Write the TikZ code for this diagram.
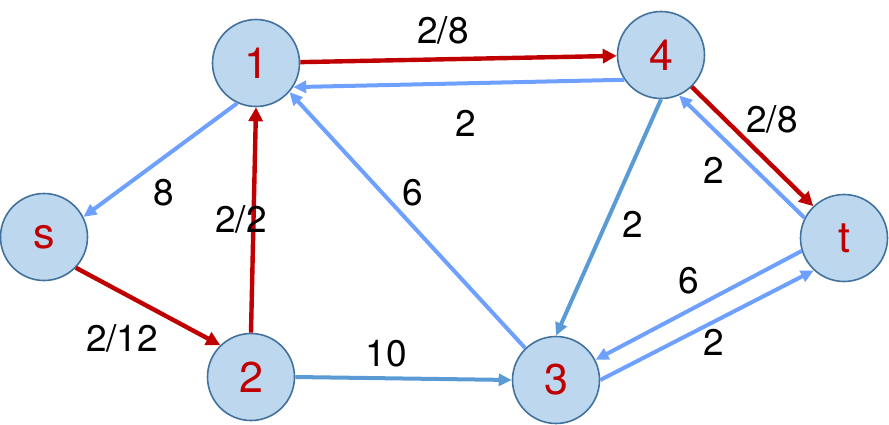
\documentclass[tikz,border=0pt]{standalone}
\usepackage{fontspec}
\setmainfont{TeX Gyre Heros}
\usetikzlibrary{arrows.meta}
\definecolor{flowred}{RGB}{192,0,0}
\definecolor{resblue}{RGB}{110,160,255}
\definecolor{capblue}{RGB}{91,155,213}
\definecolor{vfill}{RGB}{189,215,238}
\definecolor{vdraw}{RGB}{65,113,156}

\begin{document}
\begin{tikzpicture}[
    x=1pt, y=-1pt,
    vtx/.style={circle, draw=vdraw, fill=vfill, line width=1.6pt,
                minimum size=87pt, inner sep=0pt, text=flowred,
                font=\fontsize{43}{43}\selectfont},
    flow/.style={-{Triangle[length=14pt,width=14pt]}, line width=4.4pt, flowred},
    res/.style={-{Triangle[length=13pt,width=12pt]}, line width=4pt, resblue},
    capedge/.style={-{Triangle[length=13pt,width=12pt]}, line width=4pt, capblue},
    lbl/.style={font=\fontsize{37}{37}\selectfont, inner sep=0pt},
]
\useasboundingbox (0,0) rectangle (889,424);

% vertices
\node[vtx] (s)  at (44,237)  {s};
\node[vtx] (n1) at (256,63)  {1};
\node[vtx] (n2) at (251,377) {2};
\node[vtx] (n3) at (556,380) {3};
\node[vtx] (n4) at (661,55)  {4};
\node[vtx] (t)  at (844,238) {t};

% flow edges
\draw[flow] (n1) -- (n4);
\draw[flow] (s.-44) -- (n2.134);
\draw[flow] (n2.north) -- (n1.south);
\draw[flow] (n4.-46) -- (t.134);

% residual edges
\draw[res] (n4.214) -- (n1.-33);
\draw[res] (n1.245) -- (s.27);
\draw[res] (n3.134) -- (n1.-41);
\draw[res] (t.153) -- (n4.-66);
\draw[res] (t.197) -- (n3.27);
\draw[res] (n3.east) -- (t.227);

% capacity edges
\draw[capedge] (n2.east) -- (n3.west);
\draw[capedge] (n4.south) -- (n3.north);

% labels
\node[lbl] (l14) at (443,30)  {2/8};
\node[lbl] (l41) at (466,123) {2};
\node[lbl] (l1s) at (164,193) {8};
\node[lbl] (l21) at (241,219) {2/2};
\node[lbl] (l31) at (413,193) {6};
\node[lbl] (ls2) at (122,338) {2/12};
\node[lbl] (l23) at (386,354) {10};
\node[lbl] (l43) at (633,224) {2};
\node[lbl] (l4t) at (772,119) {2/8};
\node[lbl] (lt4) at (714,170) {2};
\node[lbl] (lt3) at (689,281) {6};
\node[lbl] (l3t) at (714,342) {2};

\end{tikzpicture}
\end{document}
